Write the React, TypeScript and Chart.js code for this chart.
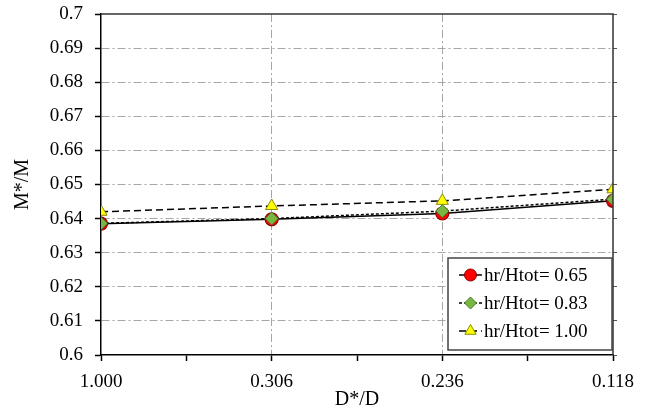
import React, { useEffect, useRef } from "react";
import { Chart, registerables } from "chart.js";
import { drawPoint } from "chart.js/helpers";

Chart.register(...registerables);

const categories = ["1.000", "0.306", "0.236", "0.118"];
const series065 = [0.6385, 0.6398, 0.6415, 0.6452];
const series083 = [0.6386, 0.64, 0.6422, 0.6457];
const series100 = [0.642, 0.6437, 0.6452, 0.6486];
const seriesLabels = ["hr/Htot= 0.65", "hr/Htot= 0.83", "hr/Htot= 1.00"];
const yTicksMin = 0.6;
const yTicksMax = 0.7;
const yStep = 0.01;

const FONT = "'Liberation Serif', 'Times New Roman', serif";
const GRID_DASH = [8, 3, 2, 3];

const frameLegendPlugin = {
  id: "frameLegend",
  afterDraw(chart: any) {
    const { ctx, chartArea } = chart;
    const { left, right, top, bottom } = chartArea;
    ctx.save();
    ctx.strokeStyle = "#333333";
    ctx.lineWidth = 1.5;
    ctx.setLineDash([]);
    ctx.beginPath();
    ctx.moveTo(left, top);
    ctx.lineTo(right, top);
    ctx.lineTo(right, bottom);
    ctx.stroke();

    // legend
    const boxW = 164;
    const boxH = 92;
    const bx = right - boxW - 1;
    const by = bottom - boxH - 5;
    ctx.fillStyle = "#ffffff";
    ctx.fillRect(bx, by, boxW, boxH);
    ctx.strokeStyle = "#444444";
    ctx.lineWidth = 1.5;
    ctx.strokeRect(bx, by, boxW, boxH);
    const ds = chart.data.datasets;
    ds.forEach((d: any, i: number) => {
      const cy = by + 17 + i * 28;
      const lx1 = bx + 11;
      const lx2 = bx + 34;
      ctx.save();
      ctx.strokeStyle = "#000";
      ctx.lineWidth = 1.5;
      ctx.setLineDash(d.borderDash || []);
      ctx.beginPath();
      ctx.moveTo(lx1, cy);
      ctx.lineTo(lx2, cy);
      ctx.stroke();
      ctx.restore();
      ctx.save();
      ctx.fillStyle = d.pointBackgroundColor;
      ctx.strokeStyle = d.pointBorderColor;
      ctx.lineWidth = 1;
      drawPoint(
        ctx,
        { pointStyle: d.pointStyle, radius: d.pointRadius - 0.5, borderWidth: 1, rotation: 0 } as any,
        (lx1 + lx2) / 2,
        cy
      );
      ctx.restore();
      ctx.fillStyle = "#000";
      ctx.font = `19px ${FONT}`;
      ctx.textAlign = "left";
      ctx.textBaseline = "middle";
      ctx.fillText(d.label, lx2 + 2, cy + 1);
    });
    ctx.restore();
  },
};

export default function App() {
  const canvasRef = useRef<HTMLCanvasElement | null>(null);

  useEffect(() => {
    document.body.style.margin = "0";
    const canvas = canvasRef.current;
    if (!canvas) return;
    const toPts = (arr: number[]) => arr.map((y, i) => ({ x: i, y }));
    const chart = new Chart(canvas, {
      type: "scatter",
      data: {
        datasets: [
          {
            label: seriesLabels[0],
            data: toPts(series065),
            showLine: true,
            order: 3,
            borderColor: "#000000",
            borderWidth: 1.5,
            borderDash: [],
            pointStyle: "circle",
            pointRadius: 6.5,
            pointBackgroundColor: "#ff0000",
            pointBorderColor: "#8b0000",
            pointBorderWidth: 1.2,
          },
          {
            label: seriesLabels[1],
            data: toPts(series083),
            showLine: true,
            order: 2,
            borderColor: "#000000",
            borderWidth: 1.5,
            borderDash: [3, 2],
            pointStyle: "rectRot",
            pointRadius: 6.5,
            pointBackgroundColor: "#77b843",
            pointBorderColor: "#4d7a2a",
            pointBorderWidth: 1,
          },
          {
            label: seriesLabels[2],
            data: toPts(series100),
            showLine: true,
            order: 1,
            borderColor: "#000000",
            borderWidth: 1.5,
            borderDash: [7, 4],
            pointStyle: "triangle",
            pointRadius: 7,
            pointBackgroundColor: "#ffff00",
            pointBorderColor: "#8a8a00",
            pointBorderWidth: 1,
          },
        ],
      },
      options: {
        animation: false,
        responsive: true,
        maintainAspectRatio: false,
        layout: { padding: { left: 0, right: 0, top: 14, bottom: 0 } },
        plugins: {
          legend: { display: false },
          tooltip: { enabled: false },
        },
        scales: {
          x: {
            type: "linear",
            min: 0,
            max: categories.length - 1,
            ticks: {
              stepSize: 0.5,
              autoSkip: false,
              maxRotation: 0,
              padding: 10,
              color: "#000",
              font: { family: FONT, size: 19 },
              callback: (v: any) =>
                Number.isInteger(v) ? categories[v] : "",
            },
            grid: {
              color: (c: any) => {
                const v = c.tick ? c.tick.value : 0;
                return Number.isInteger(v) && v > 0 && v < categories.length - 1
                  ? "#a6a6a6"
                  : "rgba(0,0,0,0)";
              },
              tickColor: "#000",
              tickLength: 6,
              tickWidth: 1.5,
              lineWidth: 1,
            },
            border: { color: "#000", width: 1.5, dash: GRID_DASH },
            title: {
              display: true,
              text: "D*/D",
              color: "#000",
              font: { family: FONT, size: 20 },
              padding: { top: 0, bottom: 2 },
            },
            afterFit: (s: any) => {
              s.height = 59;
            },
          },
          y: {
            type: "linear",
            min: yTicksMin,
            max: yTicksMax,
            ticks: {
              stepSize: yStep,
              padding: 12,
              color: "#000",
              font: { family: FONT, size: 19 },
              callback: (v: any) => String(Number(Number(v).toFixed(2))),
            },
            grid: {
              color: (c: any) => {
                const v = c.tick ? Number(c.tick.value.toFixed(3)) : 0;
                return v > yTicksMin && v < yTicksMax ? "#a6a6a6" : "rgba(0,0,0,0)";
              },
              tickColor: "#000",
              tickLength: 6,
              tickWidth: 1.5,
              lineWidth: 1,
            },
            border: { color: "#000", width: 1.5, dash: GRID_DASH },
            title: {
              display: true,
              text: "M*/M",
              color: "#000",
              font: { family: FONT, size: 20 },
              padding: { top: 11, bottom: 0 },
            },
            afterFit: (s: any) => {
              s.width = 101;
              s.paddingTop = 0;
              s.paddingBottom = 0;
            },
          },
          y2: {
            type: "linear",
            position: "right",
            min: yTicksMin,
            max: yTicksMax,
            ticks: { stepSize: yStep, display: false },
            grid: {
              drawOnChartArea: false,
              tickColor: "#555",
              tickLength: 4,
              tickWidth: 1,
            },
            border: { display: false },
            afterFit: (s: any) => {
              s.width = 37;
              s.paddingTop = 0;
              s.paddingBottom = 0;
            },
          },
        },
      },
      plugins: [frameLegendPlugin],
    });
    return () => chart.destroy();
  }, []);

  return (
    <div style={{ position: "fixed", left: 0, top: 0, width: 650, height: 414 }}>
      <canvas ref={canvasRef} />
    </div>
  );
}
